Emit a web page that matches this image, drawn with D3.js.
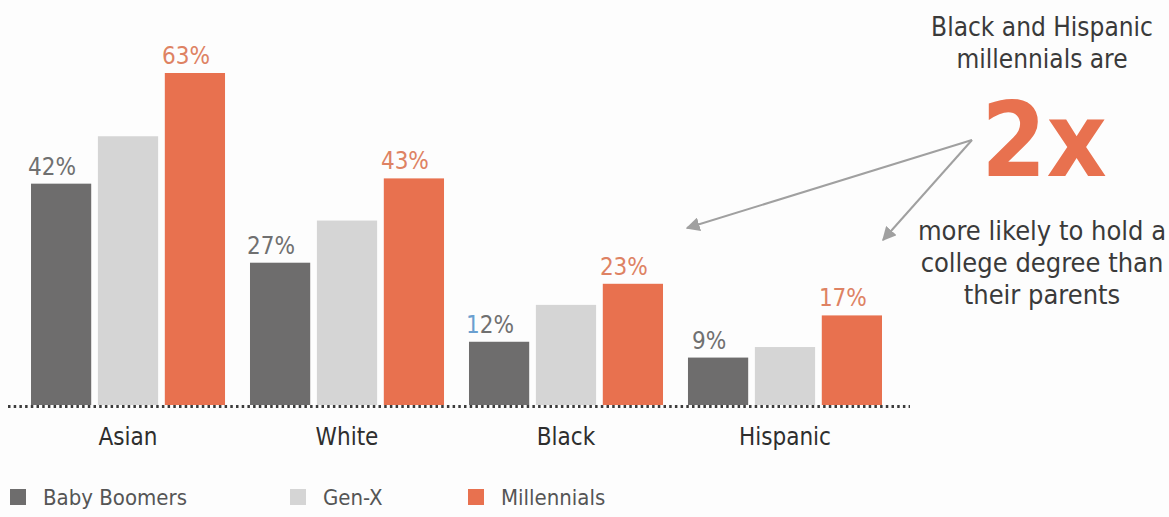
<!DOCTYPE html>
<html>
<head>
<meta charset="utf-8">
<script src="https://cdn.jsdelivr.net/npm/d3@7"></script>
<style>
  body { margin: 0; background: #fdfdfd; }
  svg { display: block; }
</style>
</head>
<body>
<div id="chart"></div>
<script>
// data
const groups = ["Asian", "White", "Black", "Hispanic"];
const generations = ["Baby Boomers", "Gen-X", "Millennials"];
const babyBoomers = [42, 27, 12, 9];
const genX = [51, 35, 19, 11];
const millennials = [63, 43, 23, 17];
const noteTop = ["Black and Hispanic", "millennials are"];
const noteBig = "2x";
const noteBottom = ["more likely to hold a", "college degree than", "their parents"];

const colorPalette = {
  boomers: "#6e6d6d",
  genx: "#d5d5d5",
  millennials: "#e8714f",
  labelGrey: "#707070",
  labelOrange: "#de8263",
  text: "#3a3a3a",
  arrow: "#a0a0a0",
  baseline: "#3c3c3c",
};
const font = "'DejaVu Sans Condensed', 'Liberation Sans Narrow', Roboto, sans-serif";

const width = 1169, height = 517;
const config = { left: 31, right: 882, baseline: 405, top: 73 };

const svg = d3.select("#chart").append("svg")
  .attr("width", width).attr("height", height);

const rows = groups.map((g, i) => ({
  group: g,
  values: [babyBoomers[i], genX[i], millennials[i]],
}));

const x0 = d3.scaleBand().domain(groups)
  .range([config.left, config.right]).paddingInner(0.114).paddingOuter(0);
const x1 = d3.scaleBand().domain(generations)
  .range([0, x0.bandwidth()]).paddingInner(0.1).paddingOuter(0);
const y = d3.scaleLinear().domain([0, 63]).range([config.baseline, config.top]);
const color = d3.scaleOrdinal().domain(generations)
  .range([colorPalette.boomers, colorPalette.genx, colorPalette.millennials]);

// bars
const g = svg.selectAll("g.group").data(rows).enter().append("g")
  .attr("class", "group")
  .attr("transform", d => `translate(${x0(d.group)},0)`);

g.selectAll("rect").data(d => d.values.map((v, j) => ({ gen: generations[j], v })))
  .enter().append("rect")
  .attr("x", d => x1(d.gen))
  .attr("width", x1.bandwidth())
  .attr("y", d => y(d.v))
  .attr("height", d => y(0) - y(d.v))
  .attr("fill", d => color(d.gen));

// value labels (boomers + millennials only)
g.each(function (d) {
  const sel = d3.select(this);
  [0, 2].forEach(j => {
    const gen = generations[j];
    const v = d.values[j];
    const t = sel.append("text")
      .attr("x", x1(gen) + x1.bandwidth() / 2 - 9)
      .attr("y", y(v) - 9)
      .attr("text-anchor", "middle")
      .style("font-family", font)
      .style("font-size", "24px")
      .style("fill", j === 2 ? colorPalette.labelOrange : colorPalette.labelGrey);
    if (d.group === "Black" && j === 0) {
      // print misregistration: the leading "1" shows blue
      const s = `${v}%`;
      t.append("tspan").text(s.slice(0, 1)).style("fill", "#6a9fd0");
      t.append("tspan").text(s.slice(1));
    } else {
      t.text(`${v}%`);
    }
  });
});

// dotted baseline
svg.append("line")
  .attr("x1", 8).attr("x2", 910)
  .attr("y1", config.baseline + 1.5).attr("y2", config.baseline + 1.5)
  .attr("stroke", colorPalette.baseline)
  .attr("stroke-width", 3)
  .attr("stroke-dasharray", "2.5,3.2");

// category axis
const xAxis = d3.axisBottom(x0).tickSize(0).tickPadding(0);
const ax = svg.append("g").attr("class", "xAxis")
  .attr("transform", `translate(0,${config.baseline + 23})`)
  .call(xAxis);
ax.select(".domain").remove();
ax.selectAll("text")
  .attr("dy", "0.71em")
  .style("font-family", font)
  .style("font-size", "24px")
  .style("fill", "#2e2e2e");

// legend
const legendX = [10, 290, 468];
const legend = svg.selectAll("g.legend").data(generations).enter().append("g")
  .attr("class", "legend")
  .attr("transform", (d, i) => `translate(${legendX[i]},489)`);
legend.append("rect").attr("width", 16).attr("height", 16)
  .attr("fill", d => color(d));
legend.append("text").text(d => d)
  .attr("x", 33).attr("y", 16)
  .style("font-family", font)
  .style("font-size", "22px")
  .style("fill", "#555");

// annotation
const noteX = 1042;
svg.selectAll("text.noteTop").data(noteTop).enter().append("text")
  .attr("class", "noteTop")
  .attr("x", noteX).attr("y", (d, i) => 36 + i * 32)
  .attr("text-anchor", "middle")
  .style("font-family", font).style("font-size", "26px")
  .style("fill", colorPalette.text)
  .text(d => d);

svg.append("text")
  .attr("x", 1044).attr("y", 176)
  .attr("text-anchor", "middle")
  .style("font-family", font).style("font-size", "104px")
  .style("font-weight", "700")
  .style("fill", colorPalette.millennials)
  .text(noteBig);

svg.selectAll("text.noteBottom").data(noteBottom).enter().append("text")
  .attr("class", "noteBottom")
  .attr("x", noteX).attr("y", (d, i) => 240 + i * 32)
  .attr("text-anchor", "middle")
  .style("font-family", font).style("font-size", "27px")
  .style("fill", colorPalette.text)
  .text(d => d);

// arrows
const defs = svg.append("defs");
defs.append("marker").attr("id", "arrowhead")
  .attr("viewBox", "0 0 10 10").attr("refX", 9).attr("refY", 5)
  .attr("markerWidth", 7).attr("markerHeight", 7)
  .attr("orient", "auto")
  .append("path").attr("d", "M0,0 L10,5 L0,10 z")
  .attr("fill", colorPalette.arrow);

const arrowFrom = [972, 140];
const arrowTargets = [[687, 228], [883, 240]];
svg.selectAll("line.arrow").data(arrowTargets).enter().append("line")
  .attr("class", "arrow")
  .attr("x1", arrowFrom[0]).attr("y1", arrowFrom[1])
  .attr("x2", d => d[0]).attr("y2", d => d[1])
  .attr("stroke", colorPalette.arrow)
  .attr("stroke-width", 2)
  .attr("marker-end", "url(#arrowhead)");
</script>
</body>
</html>
